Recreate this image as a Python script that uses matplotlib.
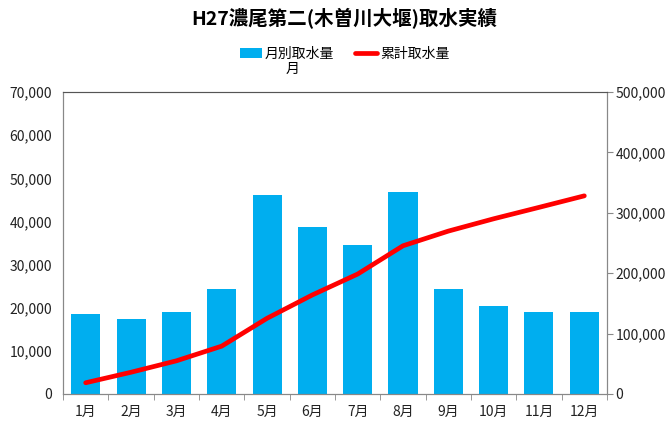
import numpy as np
import matplotlib.pyplot as plt
from matplotlib.ticker import FuncFormatter, FixedLocator

plt.rcParams['font.family'] = ['Noto Sans CJK JP', 'DejaVu Sans']
plt.rcParams['font.size'] = 10

# data
months = ['1月', '2月', '3月', '4月', '5月', '6月', '7月', '8月', '9月', '10月', '11月', '12月']
monthly = [18600, 17400, 18900, 24300, 46100, 38700, 34600, 46800, 24300, 20400, 18900, 19100]
cumulative = [18600, 36000, 54900, 79200, 125300, 164000, 198600, 245400, 269700, 290100, 309000, 328100]

fig = plt.figure(figsize=(6.69, 4.29), dpi=100)
ax = fig.add_axes([0.0942, 0.0816, 0.8131, 0.7039])
ax2 = ax.twinx()

x = np.arange(len(months))
bars = ax.bar(x, monthly, width=0.64, color='#00AEEF', label='月別取水量', zorder=2)
line, = ax2.plot(x, cumulative, color='#FF0000', linewidth=3.4, solid_capstyle='round',
                 label='累計取水量', zorder=3)

ax.set_xlim(-0.5, 11.5)
ax.set_ylim(0, 70000)
ax2.set_ylim(0, 500000)
ax.set_yticks(np.arange(0, 70001, 10000))
ax2.set_yticks(np.arange(0, 500001, 100000))

fmt = FuncFormatter(lambda v, p: f'{int(v):,}')
ax.yaxis.set_major_formatter(fmt)
ax2.yaxis.set_major_formatter(fmt)

ax.set_xticks(x)
ax.set_xticklabels(months)
ax.xaxis.set_minor_locator(FixedLocator(np.arange(-0.5, 12, 1)))
ax.tick_params(axis='x', which='major', length=0, pad=8, labelcolor='#222222')
ax.tick_params(axis='x', which='minor', length=4, color='#888888')
ax.tick_params(axis='y', length=0, pad=8, labelsize=10, labelcolor='#222222')
ax2.tick_params(axis='y', length=4, color='#888888', pad=2, labelsize=10, labelcolor='#222222')

for a in (ax, ax2):
    for s in a.spines.values():
        s.set_color('#888888')
        s.set_linewidth(0.8)
ax2.spines['top'].set_color('#555555')

fig.suptitle('H27濃尾第二(木曽川大堰)取水実績', x=0.515, y=0.98, fontsize=14, fontweight='bold')

fig.legend(handles=[bars, line], loc='center', bbox_to_anchor=(0.515, 0.875), ncol=2,
           frameon=False, fontsize=10, handlelength=1.6, handletextpad=0.2, columnspacing=1.5)
fig.text(0.437, 0.84, '月', fontsize=10, ha='center', va='center')

fig.savefig('out.png', dpi=100)
